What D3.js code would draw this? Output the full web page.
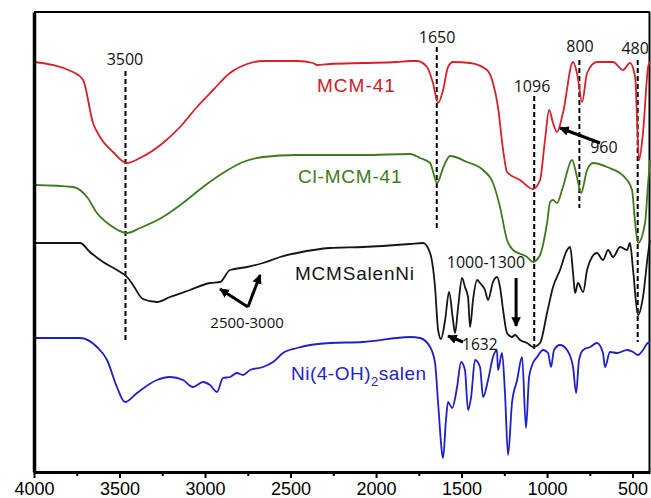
<!DOCTYPE html>
<html>
<head>
<meta charset="utf-8">
<script src="https://cdn.jsdelivr.net/npm/d3@7"></script>
<style>
  html, body { margin: 0; padding: 0; background: #fff; }
  svg { display: block; }
</style>
</head>
<body>
<svg id="chart" width="651" height="498"></svg>
<script>
// wavenumber (cm-1) / transmittance (a.u., offset) pairs
const mcm41 = [
  [4000, 41.0], [3772, 40.0], [3713, 39.2], [3655, 34.9], [3614, 33.5], [3538, 32.0], [3456, 30.9],
  [3380, 31.4], [3246, 32.9], [3146, 34.5], [3047, 36.5], [2953, 38.2], [2854, 39.9], [2754, 40.8],
  [2661, 41.1], [2462, 41.1], [2368, 40.9], [2345, 40.7], [2269, 40.8], [2076, 40.9], [1877, 41.0],
  [1801, 41.1], [1760, 41.1], [1702, 40.5], [1667, 38.9], [1637, 36.9], [1608, 38.2], [1579, 40.5],
  [1550, 41.0], [1450, 40.9], [1351, 40.2], [1316, 38.9], [1287, 36.5], [1257, 32.2], [1234, 30.0],
  [1158, 29.2], [1082, 28.3], [1041, 29.2], [1012, 33.2], [988, 36.2], [965, 34.9], [942, 34.0],
  [907, 35.9], [848, 41.0], [825, 39.9], [795, 37.0], [766, 39.9], [708, 41.0], [614, 41.0],
  [556, 40.2], [515, 40.9], [485, 39.5], [462, 31.2], [439, 33.9], [409, 40.5], [398, 41.0]
]
const clMcm41 = [
  [4000, 28.7], [3772, 28.5], [3690, 27.5], [3632, 25.9], [3556, 24.7], [3456, 23.9], [3380, 24.4],
  [3246, 25.5], [3129, 26.9], [3012, 28.5], [2895, 29.9], [2778, 31.0], [2661, 31.5], [2462, 31.7],
  [2076, 31.7], [1801, 31.8], [1743, 31.4], [1684, 30.9], [1643, 28.9], [1608, 30.4], [1567, 31.6],
  [1468, 31.0], [1374, 30.2], [1316, 28.9], [1275, 26.5], [1234, 23.2], [1199, 22.2], [1117, 21.5],
  [1082, 21.0], [1041, 21.7], [1000, 24.9], [982, 27.0], [965, 27.2], [942, 26.9], [907, 28.5],
  [854, 31.2], [825, 29.5], [801, 27.9], [766, 30.2], [731, 30.9], [649, 30.5], [532, 29.2],
  [503, 28.2], [485, 24.9], [468, 22.9], [427, 24.9], [409, 28.9], [398, 31.2]
]
const mcmSalenNi = [
  [4000, 22.9], [3731, 22.9], [3673, 22.0], [3596, 21.0], [3515, 20.2], [3456, 19.5], [3421, 18.7],
  [3363, 17.3], [3281, 17.0], [3205, 17.5], [3088, 18.2], [2971, 18.9], [2912, 19.0], [2854, 20.2],
  [2754, 20.5], [2661, 20.9], [2561, 21.5], [2462, 21.9], [2269, 22.4], [2076, 22.5], [1801, 22.8],
  [1725, 22.9], [1684, 21.9], [1655, 18.5], [1637, 14.2], [1620, 13.3], [1596, 15.2], [1573, 18.0],
  [1550, 15.2], [1538, 13.9], [1520, 16.5], [1497, 19.4], [1480, 18.5], [1462, 17.5], [1450, 14.5],
  [1433, 17.2], [1409, 19.2], [1392, 18.9], [1363, 18.2], [1345, 17.2], [1316, 19.0], [1293, 19.5],
  [1275, 18.5], [1257, 16.2], [1234, 13.9], [1205, 13.5], [1187, 13.7], [1158, 13.2], [1117, 12.9],
  [1082, 12.5], [1041, 12.9], [1000, 15.9], [965, 18.5], [924, 20.2], [883, 22.2], [865, 22.5],
  [848, 19.9], [836, 17.9], [819, 18.9], [789, 18.0], [766, 20.2], [737, 21.5], [708, 21.9],
  [673, 21.2], [643, 22.2], [614, 21.5], [573, 22.5], [532, 22.2], [515, 22.9], [497, 20.2],
  [468, 15.7], [439, 17.5], [409, 21.9], [398, 23.2]
]
const niSalen = [
  [4000, 13.4], [3731, 13.4], [3632, 12.5], [3573, 11.2], [3515, 8.5], [3468, 7.0], [3398, 7.9],
  [3281, 9.2], [3205, 9.5], [3129, 9.2], [3070, 8.5], [3012, 9.0], [2971, 8.7], [2930, 8.0],
  [2895, 9.4], [2854, 9.5], [2813, 9.9], [2778, 9.7], [2737, 10.2], [2661, 10.5], [2602, 11.0],
  [2544, 11.9], [2462, 12.4], [2269, 12.9], [2076, 13.0], [1801, 13.5], [1743, 13.4], [1684, 12.5],
  [1655, 10.9], [1637, 6.9], [1614, 1.9], [1608, 1.4], [1591, 5.2], [1579, 7.0], [1555, 6.4],
  [1526, 8.5], [1503, 11.0], [1480, 10.2], [1462, 6.2], [1444, 7.5], [1421, 11.2], [1392, 10.5],
  [1374, 7.5], [1345, 9.2], [1316, 11.5], [1293, 12.2], [1287, 10.2], [1263, 11.9], [1246, 7.9],
  [1228, 1.7], [1205, 6.9], [1175, 9.2], [1146, 11.5], [1123, 4.4], [1105, 9.5], [1082, 10.9],
  [1058, 11.5], [1023, 12.2], [994, 11.9], [977, 10.5], [959, 12.2], [924, 12.7], [883, 12.2],
  [848, 10.5], [830, 7.9], [813, 11.2], [789, 12.2], [748, 12.5], [708, 12.9], [673, 11.9],
  [661, 10.5], [632, 12.0], [591, 11.9], [532, 12.2], [497, 12.0], [468, 11.7], [439, 12.2],
  [409, 12.9], [398, 12.9]
]

const xTicks = [4000, 3500, 3000, 2500, 2000, 1500, 1000, 500]
const xMinorTicks = [3750, 3250, 2750, 2250, 1750, 1250, 750]

// dashed marker lines: label, wavenumber, top, bottom
const markerLines = [
  { label: '3500', w: 3465, lw: 3468, top: 40.1, bottom: 13.2, ly: 40.7 },
  { label: '1650', w: 1645, lw: 1643, top: 42.5, bottom: 24.2, ly: 42.9 },
  { label: '1096', w: 1075, lw: 1088, top: 37.6, bottom: 12.2, ly: 38.0 },
  { label: '800', w: 811, lw: 807, top: 41.2, bottom: 26.4, ly: 42.0 },
  { label: '480', w: 470, lw: 485, top: 41.2, bottom: 13.0, ly: 41.85 }
]

const series = [
  { name: 'MCM-41', data: mcm41, color: '#d7202a', text: '#cc2029', lw: 2345, ly: 38.0, ls: 1 },
  { name: 'Cl-MCM-41', data: clMcm41, color: '#3d7a1c', text: '#3d7a1c', lw: 2456, ly: 28.9, ls: 0.8 },
  { name: 'MCMSalenNi', data: mcmSalenNi, color: '#151515', text: '#151515', lw: 2474, ly: 19.2, ls: 0.8 },
  { name: 'Ni(4-OH)2salen', data: niSalen, color: '#1f1fc6', text: '#2424c8', lw: 2497, ly: 9.2, ls: 0.5 }
]

// small annotation texts and arrows
const notes = [
  { text: '960', w: 748, v: 31.9, anchor: 'start', size: 16 },
  { text: '2500-3000', w: 2754, v: 14.4, anchor: 'middle', size: 15 },
  { text: '1000-1300', w: 1357, v: 20.4, anchor: 'middle', size: 16 },
  { text: '1632', w: 1497, v: 12.2, anchor: 'start', size: 15.5 }
]
const arrows = [
  { from: [690, 32.9], to: [924, 34.4] },
  { from: [2749, 16.5], to: [2912, 18.3] },
  { from: [2749, 16.5], to: [2678, 19.7] },
  { from: [1181, 19.4], to: [1181, 14.6] },
  { from: [1491, 13.0], to: [1579, 13.6] }
]

const width = 651, height = 498
const plot = { left: 34, right: 650, top: 12, bottom: 472 }

const svg = d3.select('#chart')

const x = d3.scaleLinear().domain([4000, 398]).range([plot.left, plot.right])
const y = d3.scaleLinear().domain([0, 46]).range([plot.bottom, plot.top])

svg.append('defs').append('marker')
  .attr('id', 'head')
  .attr('viewBox', '0 0 10 10')
  .attr('refX', 9)
  .attr('refY', 5)
  .attr('markerWidth', 3.2)
  .attr('markerHeight', 3.2)
  .attr('orient', 'auto')
  .append('path')
  .attr('d', 'M0,0L10,5L0,10z')
  .attr('fill', '#000')

// frame
svg.append('line')
  .attr('x1', plot.left).attr('x2', plot.right)
  .attr('y1', plot.top).attr('y2', plot.top)
  .attr('stroke', '#000').attr('stroke-width', 2)
svg.append('line')
  .attr('x1', plot.right - 0.5).attr('x2', plot.right - 0.5)
  .attr('y1', plot.top).attr('y2', plot.bottom)
  .attr('stroke', '#000').attr('stroke-width', 2)

// dashed lines
markerLines.forEach(m => {
  svg.append('line')
    .attr('x1', x(m.w)).attr('x2', x(m.w))
    .attr('y1', y(m.top)).attr('y2', y(m.bottom))
    .attr('stroke', '#000')
    .attr('stroke-width', 2)
    .attr('stroke-dasharray', '5,3')
  svg.append('text')
    .attr('x', x(m.lw))
    .attr('y', y(m.ly))
    .attr('text-anchor', 'middle')
    .attr('font-family', '"Open Sans", sans-serif')
    .attr('font-size', '16px')
    .attr('fill', '#111')
    .text(m.label)
})

const line = d3.line()
  .x(d => x(d[0]))
  .y(d => y(d[1]))
  .curve(d3.curveMonotoneX)

series.forEach(s => {
  svg.append('path')
    .datum(s.data)
    .attr('fill', 'none')
    .attr('stroke', s.color)
    .attr('stroke-width', 1.8)
    .attr('stroke-linejoin', 'round')
    .attr('d', line)

  const t = svg.append('text')
    .attr('x', x(s.lw))
    .attr('y', y(s.ly))
    .attr('font-family', '"Liberation Sans", Arial, sans-serif')
    .attr('font-size', '19px')
    .attr('letter-spacing', s.ls)
    .attr('fill', s.text)
  const m = s.name.match(/^(.*\))(\d)(.*)$/)
  if (m) {
    t.append('tspan').text(m[1])
    t.append('tspan').attr('font-size', '13px').attr('dy', 6).text(m[2])
    t.append('tspan').attr('dy', -6).text(m[3])
  } else {
    t.text(s.name)
  }
})

notes.forEach(n => {
  svg.append('text')
    .attr('x', x(n.w))
    .attr('y', y(n.v))
    .attr('text-anchor', n.anchor)
    .attr('font-family', '"Open Sans", sans-serif')
    .attr('font-size', n.size + 'px')
    .attr('fill', '#111')
    .text(n.text)
})

arrows.forEach(a => {
  svg.append('line')
    .attr('x1', x(a.from[0])).attr('y1', y(a.from[1]))
    .attr('x2', x(a.to[0])).attr('y2', y(a.to[1]))
    .attr('stroke', '#000')
    .attr('stroke-width', 3)
    .attr('marker-end', 'url(#head)')
})

// axes
const xAxis = svg.append('g')
  .attr('transform', `translate(0,${plot.bottom})`)
  .call(d3.axisBottom(x).tickValues(xTicks).tickFormat(d3.format('d')).tickSize(6).tickPadding(4).tickSizeOuter(0))
xAxis.select('.domain').attr('stroke-width', 3)
xAxis.selectAll('.tick line').attr('stroke-width', 2)
xAxis.selectAll('text')
  .attr('font-family', '"Liberation Sans", Arial, sans-serif')
  .attr('font-size', '18px')
  .attr('fill', '#000')

const xMinor = svg.append('g')
  .attr('transform', `translate(0,${plot.bottom})`)
  .call(d3.axisBottom(x).tickValues(xMinorTicks).tickSize(4).tickFormat('').tickSizeOuter(0))
xMinor.select('.domain').remove()
xMinor.selectAll('.tick line').attr('stroke-width', 2)

const yAxis = svg.append('g')
  .attr('transform', `translate(${plot.left},0)`)
  .call(d3.axisLeft(y).tickValues([]).tickSizeOuter(0))
yAxis.select('.domain').attr('stroke-width', 3.5)
</script>
</body>
</html>
